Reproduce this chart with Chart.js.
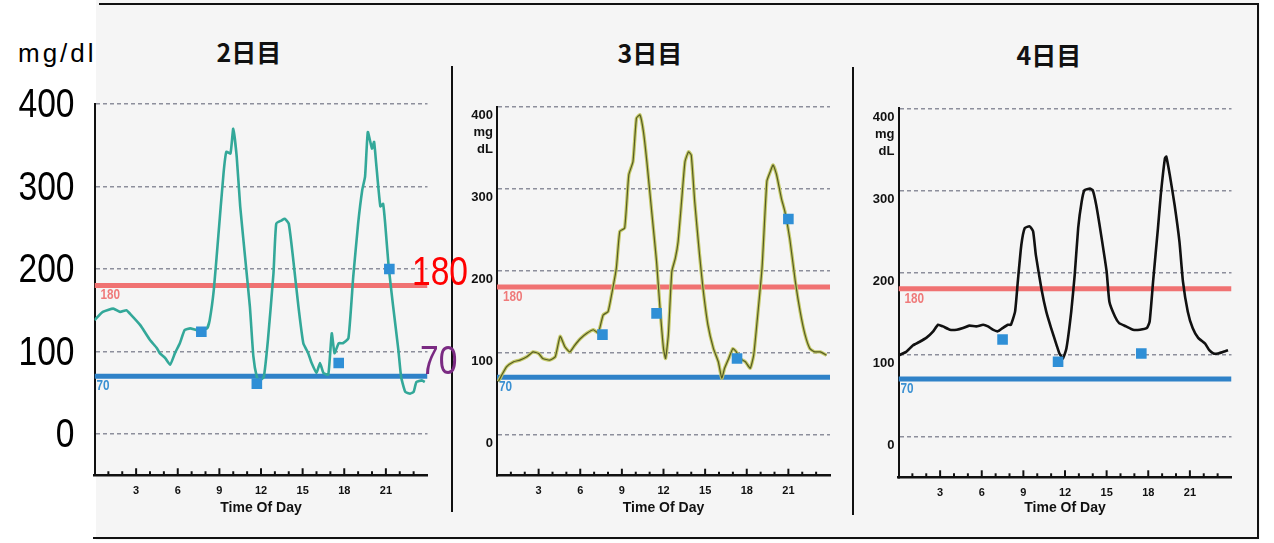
<!DOCTYPE html>
<html>
<head>
<meta charset="utf-8">
<script src="https://cdn.jsdelivr.net/npm/chart.js@4"></script>
<style>
  body { margin: 0; width: 1274px; height: 543px; background: #fff; overflow: hidden; position: relative; }
  .scan { position: absolute; left: 96px; top: 0; width: 1164px; height: 540px; background: #f5f5f5; }
  .rule { position: absolute; background: #111; }
  .day { position: absolute; width: 120px; text-align: center; font: bold 25px "Noto Sans CJK JP", sans-serif; line-height: 30px; color: #111; }
  .unit { position: absolute; left: 18px; top: 38px; font: 26px "Liberation Sans", Arial, sans-serif; letter-spacing: 3px; line-height: 30px; color: #000; }
  canvas { position: absolute; }
</style>
</head>
<body>
<div class="scan"></div>
<div class="rule" style="left:99px;top:3px;width:1160px;height:2px"></div>
<div class="rule" style="left:93px;top:537px;width:1166px;height:2px"></div>
<div class="rule" style="left:1257px;top:3px;width:2px;height:536px"></div>
<div class="rule" style="left:451px;top:66px;width:2px;height:446px"></div>
<div class="rule" style="left:852px;top:67px;width:2px;height:448px"></div>
<div class="unit">mg/dl</div>
<div class="day" id="t0" style="left:189px;top:36px"></div>
<div class="day" id="t1" style="left:590px;top:37px"></div>
<div class="day" id="t2" style="left:989px;top:39px"></div>
<canvas id="day2" width="475" height="460" style="left:0;top:80px"></canvas>
<canvas id="day3" width="395" height="460" style="left:455px;top:80px"></canvas>
<canvas id="day4" width="400" height="462" style="left:856px;top:80px"></canvas>
<script>
// panel titles and axes
const dayTitles = ['2日目', '3日目', '4日目'];
const xTickHours = [3, 6, 9, 12, 15, 18, 21];
const yTicks = [0, 100, 200, 300, 400];
const highLimit = 180;
const lowLimit = 70;

// day 2 sensor trace (hour of day, mg/dl)
const day2Hours = [0, 0.6, 1.35, 1.85, 2.3, 2.55, 3.3, 4, 4.5, 4.7, 5.1, 5.45, 5.8, 6.15, 6.5, 6.9, 7.4, 8.1, 8.3, 8.6, 8.9, 9.3, 9.5, 9.8, 10, 10.25, 10.5, 10.85, 11.2, 11.45, 11.7, 11.9, 12.2, 12.5, 12.9, 13.1, 13.5, 13.7, 14, 14.3, 14.7, 15.05, 15.4, 15.65, 16, 16.25, 16.5, 16.85, 17.1, 17.3, 17.6, 17.9, 18.3, 18.65, 19, 19.3, 19.5, 19.7, 20, 20.15, 20.3, 20.6, 20.8, 20.95, 21.2, 21.5, 21.9, 22.1, 22.4, 22.75, 23, 23.2, 23.6, 23.8];
const day2Values = [138, 148, 152, 148, 150, 146, 132, 114, 104, 98, 92, 84, 98, 110, 126, 128, 126, 128, 138, 175, 235, 316, 342, 340, 370, 336, 276, 215, 154, 94, 69, 65, 69, 114, 195, 255, 259, 261, 255, 215, 154, 110, 98, 86, 74, 86, 74, 72, 122, 98, 110, 110, 116, 191, 255, 296, 312, 366, 346, 354, 328, 276, 279, 255, 203, 158, 102, 69, 51, 49, 51, 63, 65, 63];
const day2MeterHours = [7.7, 11.7, 17.6, 21.25];
const day2MeterValues = [124, 61, 86, 200];

// day 3
const day3Hours = [0.1, 0.35, 0.7, 1.2, 1.65, 2.15, 2.6, 3, 3.3, 3.8, 4.2, 4.55, 4.9, 5.25, 5.6, 6, 6.5, 6.95, 7.3, 7.65, 8, 8.25, 8.6, 8.85, 9.2, 9.5, 9.8, 10.05, 10.3, 10.55, 10.8, 11.15, 11.5, 11.75, 12, 12.15, 12.35, 12.6, 12.85, 13.05, 13.3, 13.55, 13.8, 14, 14.25, 14.6, 14.85, 15.2, 15.6, 15.95, 16.2, 16.4, 16.7, 17, 17.25, 17.5, 17.9, 18.25, 18.5, 18.7, 19.1, 19.45, 19.7, 19.9, 20.15, 20.5, 20.75, 21.1, 21.5, 21.85, 22.2, 22.55, 22.9, 23.3, 23.75];
const day3Values = [65, 73, 83, 89, 91, 95, 101, 99, 93, 91, 95, 120, 107, 101, 109, 117, 124, 128, 124, 146, 150, 170, 203, 248, 252, 317, 333, 386, 390, 370, 333, 272, 211, 154, 105, 93, 122, 199, 215, 235, 284, 333, 345, 341, 284, 219, 178, 134, 105, 89, 69, 81, 93, 105, 101, 93, 89, 81, 97, 130, 203, 309, 321, 329, 317, 288, 272, 239, 187, 150, 122, 105, 101, 101, 97];
const day3MeterHours = [7.6, 11.5, 17.3, 21.0];
const day3MeterValues = [122, 148, 93, 263];

// day 4
const day4Hours = [0.05, 0.55, 1.05, 1.5, 2, 2.5, 2.85, 3.2, 3.7, 4.2, 4.65, 5.1, 5.6, 6.1, 6.45, 6.8, 7.15, 7.5, 7.9, 8.1, 8.4, 8.6, 8.85, 9.1, 9.45, 9.7, 9.9, 10.3, 10.65, 11, 11.4, 11.6, 11.85, 12.1, 12.45, 12.7, 12.95, 13.2, 13.4, 13.8, 14, 14.25, 14.6, 15, 15.2, 15.6, 15.9, 16.4, 16.9, 17.4, 17.9, 18.1, 18.35, 18.7, 18.9, 19.2, 19.3, 19.55, 19.9, 20.25, 20.5, 20.85, 21.2, 21.6, 22.1, 22.4, 22.7, 23, 23.4, 23.75];
const day4Values = [99, 103, 111, 115, 120, 128, 136, 134, 130, 130, 132, 135, 134, 136, 134, 130, 128, 132, 136, 136, 152, 189, 233, 254, 256, 250, 221, 180, 152, 132, 111, 101, 95, 107, 152, 197, 254, 286, 300, 302, 300, 282, 246, 201, 164, 146, 138, 134, 130, 130, 132, 140, 189, 254, 294, 339, 341, 319, 282, 237, 189, 152, 132, 120, 113, 105, 101, 101, 103, 105];
const day4MeterHours = [7.5, 11.5, 17.5];
const day4MeterValues = [118, 91, 101];

const SANS = '"Liberation Sans", Arial, sans-serif';

dayTitles.forEach((t, i) => { document.getElementById('t' + i).textContent = t; });

const toPoints = (xs, ys) => xs.map((x, i) => ({ x: x, y: ys[i] }));

// squeezed text, the scan uses a narrow face
function narrowText(ctx, text, x, y, align) {
  ctx.save();
  ctx.translate(x, y);
  ctx.scale(0.84, 1);
  ctx.textAlign = align;
  ctx.fillText(text, 0, 0);
  ctx.restore();
}

// small ticks pointing up from the time axis, the 180 / 70 labels,
// and the big left-hand mg/dl labels on the first panel
const axisDecor = {
  id: 'axisDecor',
  afterDraw(chart) {
    const { ctx, chartArea } = chart;
    const xs = chart.scales.x, ys = chart.scales.y;
    ctx.save();
    ctx.strokeStyle = '#111';
    ctx.lineWidth = 2;
    for (let h = 1; h < 24; h++) {
      const px = xs.getPixelForValue(h);
      ctx.beginPath();
      ctx.moveTo(px, chartArea.bottom);
      ctx.lineTo(px, chartArea.bottom - (h % 3 === 0 ? 7 : 4));
      ctx.stroke();
    }
    ctx.textBaseline = 'middle';
    ctx.font = 'bold 14px ' + SANS;
    ctx.fillStyle = '#ef7a7a';
    narrowText(ctx, String(highLimit), chartArea.left + 6, ys.getPixelForValue(highLimit) + 10, 'left');
    ctx.fillStyle = '#3a90d2';
    narrowText(ctx, String(lowLimit), chartArea.left + 2, ys.getPixelForValue(lowLimit) + 10, 'left');
    const opts = chart.options.plugins.axisDecor;
    if (opts && opts.bigLabels) {
      ctx.font = '40px ' + SANS;
      ctx.fillStyle = '#000';
      yTicks.forEach(v => narrowText(ctx, String(v), chartArea.left - 20, ys.getPixelForValue(v) + 2, 'right'));
      ctx.fillStyle = '#ff0000';
      narrowText(ctx, String(highLimit), chartArea.right - 15.5, ys.getPixelForValue(highLimit) - 12, 'left');
      ctx.fillStyle = '#7a2a82';
      narrowText(ctx, String(lowLimit), chartArea.right - 7.5, ys.getPixelForValue(lowLimit) - 13, 'left');
    }
    ctx.restore();
  }
};

function makeChart(id, hours, values, meterHours, meterValues, traces, box) {
  const traceSets = traces.map(t => ({
    data: toPoints(hours, values),
    borderColor: t.color,
    borderWidth: t.width,
    pointRadius: 0,
    tension: 0.15
  }));
  new Chart(document.getElementById(id), {
    type: 'line',
    data: {
      datasets: [
        {
          data: toPoints(meterHours, meterValues),
          showLine: false,
          pointStyle: 'rect',
          pointRadius: 7.5,
          backgroundColor: '#2f8fd6',
          borderWidth: 0
        },
        ...traceSets.reverse(),
        { data: [{ x: 0, y: highLimit }, { x: 24, y: highLimit }], borderColor: '#f07272', borderWidth: 5, pointRadius: 0 },
        { data: [{ x: 0, y: lowLimit }, { x: 24, y: lowLimit }], borderColor: '#2f82c8', borderWidth: 5, pointRadius: 0 }
      ]
    },
    options: {
      responsive: false,
      animation: false,
      events: [],
      layout: { padding: { top: box.top, right: box.right, bottom: 0, left: 0 } },
      plugins: {
        legend: { display: false },
        tooltip: { enabled: false },
        axisDecor: { bigLabels: box.big }
      },
      scales: {
        x: {
          type: 'linear',
          min: 0,
          max: 24,
          afterBuildTicks: s => { s.ticks = xTickHours.map(v => ({ value: v })); },
          afterFit: s => { s.height = box.xHeight; s.paddingLeft = 0; s.paddingRight = 0; },
          grid: { display: false, drawTicks: false },
          border: { display: true, color: '#111', width: 2.5 },
          ticks: { autoSkip: false, maxRotation: 0, padding: 9, color: '#111', font: { family: SANS, size: 11, weight: 'bold' } },
          title: {
            display: true,
            text: 'Time Of Day',
            color: '#111',
            font: { family: SANS, size: 14, weight: 'bold' },
            padding: { top: 0, bottom: box.titleBottom }
          }
        },
        y: {
          min: -50,
          max: 400,
          afterBuildTicks: s => { s.ticks = yTicks.map(v => ({ value: v })); },
          afterFit: s => { s.width = box.yWidth; s.paddingTop = 0; s.paddingBottom = 0; },
          grid: { color: '#8d8f9c', lineWidth: 1.6, drawTicks: false },
          border: { display: true, color: '#111', width: 2, dash: [4, 3] },
          ticks: box.big
            ? { display: false }
            : {
                padding: 4,
                labelOffset: 9,
                color: '#111',
                font: { family: SANS, size: 13, weight: 'bold', lineHeight: 1.3 },
                callback: v => (v === 400 ? ['', '', '400', 'mg', 'dL'] : String(v))
              }
        }
      }
    },
    plugins: [axisDecor]
  });
}

makeChart('day2', day2Hours, day2Values, day2MeterHours, day2MeterValues,
  [{ color: '#33a899', width: 2.6 }],
  { top: 24, right: 47.5, yWidth: 94.5, xHeight: 64.75, titleBottom: 23.6, big: true });
makeChart('day3', day3Hours, day3Values, day3MeterHours, day3MeterValues,
  [{ color: '#c5ca6a', width: 3.4 }, { color: '#565c22', width: 1.2 }],
  { top: 26.7, right: 20, yWidth: 42, xHeight: 64.3, titleBottom: 23.6, big: false });
makeChart('day4', day4Hours, day4Values, day4MeterHours, day4MeterValues,
  [{ color: '#111111', width: 2.6 }],
  { top: 28.3, right: 24.5, yWidth: 42.5, xHeight: 64.7, titleBottom: 25.2, big: false });
</script>
</body>
</html>
